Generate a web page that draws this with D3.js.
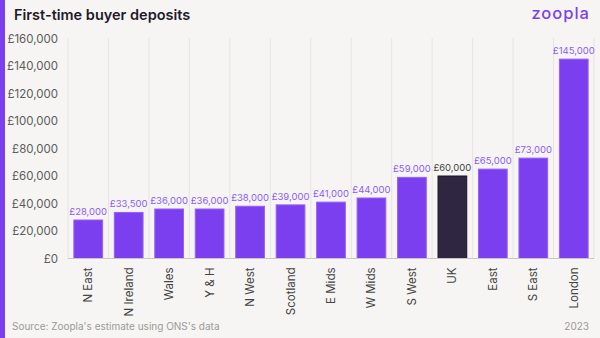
<!DOCTYPE html>
<html>
<head>
<meta charset="utf-8">
<script src="https://d3js.org/d3.v7.min.js"></script>
<style>
  body { margin: 0; background: #f6f5f3; }
  svg { display: block; font-family: Inter, "Noto Sans", sans-serif; }
</style>
</head>
<body>
<svg id="svg"></svg>
<script>
  let width = 600;
  let height = 338;

  const regions = ['N East', 'N Ireland', 'Wales', 'Y & H', 'N West', 'Scotland', 'E Mids', 'W Mids', 'S West', 'UK', 'East', 'S East', 'London'];
  const deposits = [28000, 33500, 36000, 36000, 38000, 39000, 41000, 44000, 59000, 60000, 65000, 73000, 145000];
  const yTicks = [0, 20000, 40000, 60000, 80000, 100000, 120000, 140000, 160000];

  let purple = '#7b3ff0';
  let dark = '#2f2742';

  let svg = d3.select('#svg')
    .attr('width', width)
    .attr('height', height);

  svg.append('rect')
    .attr('width', width).attr('height', height)
    .attr('fill', '#f6f5f3');

  // purple strip down the left edge
  svg.append('rect')
    .attr('width', 5).attr('height', height)
    .attr('fill', '#7b3ff0');

  svg.append('text')
    .attr('x', 14).attr('y', 20)
    .attr('font-size', 14.5).attr('font-weight', 600)
    .attr('fill', '#1e1a2b')
    .text('First-time buyer deposits');

  svg.append('text')
    .attr('x', 590).attr('y', 19)
    .attr('text-anchor', 'end')
    .attr('font-size', 16.5).attr('font-weight', 500)
    .attr('letter-spacing', 1)
    .attr('fill', '#7b3ff0')
    .text('zoopla');

  let x = d3.scaleBand()
    .domain(regions)
    .range([68, 594])
    .paddingInner(0.29)
    .paddingOuter(0.145);

  let y = d3.scaleLinear()
    .domain([0, 160000])
    .range([258.5, 38.5]);

  // vertical separators between the bands
  let step = x.step();
  let edges = regions.map(r => x(r) - x.paddingInner() * step / 2).concat([594]);
  svg.append('g').selectAll('line')
    .data(edges)
    .enter().append('line')
    .attr('x1', d => d).attr('x2', d => d)
    .attr('y1', 38).attr('y2', 258.5)
    .attr('stroke', '#e7e5e2').attr('stroke-width', 1);

  let yAxis = svg.append('g')
    .attr('transform', 'translate(68,0)')
    .call(d3.axisLeft(y).tickValues(yTicks).tickSize(0).tickPadding(10)
      .tickFormat(d => '£' + d3.format(',')(d)));
  yAxis.select('.domain').remove();
  yAxis.selectAll('text')
    .attr('font-size', 11.5).attr('fill', '#5c5c5c')
    .attr('font-family', 'Inter, "Noto Sans", sans-serif');

  svg.append('g').selectAll('rect')
    .data(regions)
    .enter().append('rect')
    .attr('x', (d) => x(d))
    .attr('y', (d, i) => y(deposits[i]))
    .attr('width', x.bandwidth())
    .attr('height', (d, i) => y(0) - y(deposits[i]))
    .attr('fill', d => d === 'UK' ? dark : purple)
    .attr('stroke', d => d === 'UK' ? '#1a1526' : '#9560f7')
    .attr('stroke-width', 1);

  svg.append('g').selectAll('text')
    .data(regions)
    .enter().append('text')
    .attr('x', d => x(d) + x.bandwidth() / 2)
    .attr('y', (d, i) => y(deposits[i]) - 5)
    .attr('text-anchor', 'middle')
    .attr('font-size', 9.5)
    .attr('fill', d => d === 'UK' ? '#444' : '#8b5cf6')
    .text((d, i) => '£' + d3.format(',')(deposits[i]));

  // baseline
  svg.append('line')
    .attr('x1', 68).attr('x2', 594)
    .attr('y1', 258.5).attr('y2', 258.5)
    .attr('stroke', '#c9c7c4').attr('stroke-width', 1);

  let xAxis = svg.append('g')
    .attr('transform', 'translate(0,258.5)')
    .call(d3.axisBottom(x).tickSize(0).tickPadding(0));
  xAxis.select('.domain').remove();
  xAxis.selectAll('text')
    .attr('font-size', 11.5).attr('fill', '#444')
    .attr('font-family', 'Inter, "Noto Sans", sans-serif')
    .attr('text-anchor', 'end')
    .attr('dy', '0.35em')
    .attr('transform', 'translate(0,9) rotate(-90)');

  svg.append('text')
    .attr('x', 12).attr('y', 330)
    .attr('font-size', 10).attr('fill', '#9b9a98')
    .text("Source: Zoopla's estimate using ONS's data");

  svg.append('text')
    .attr('x', 589).attr('y', 330)
    .attr('text-anchor', 'end')
    .attr('font-size', 10).attr('fill', '#9b9a98')
    .text('2023');
</script>
</body>
</html>
